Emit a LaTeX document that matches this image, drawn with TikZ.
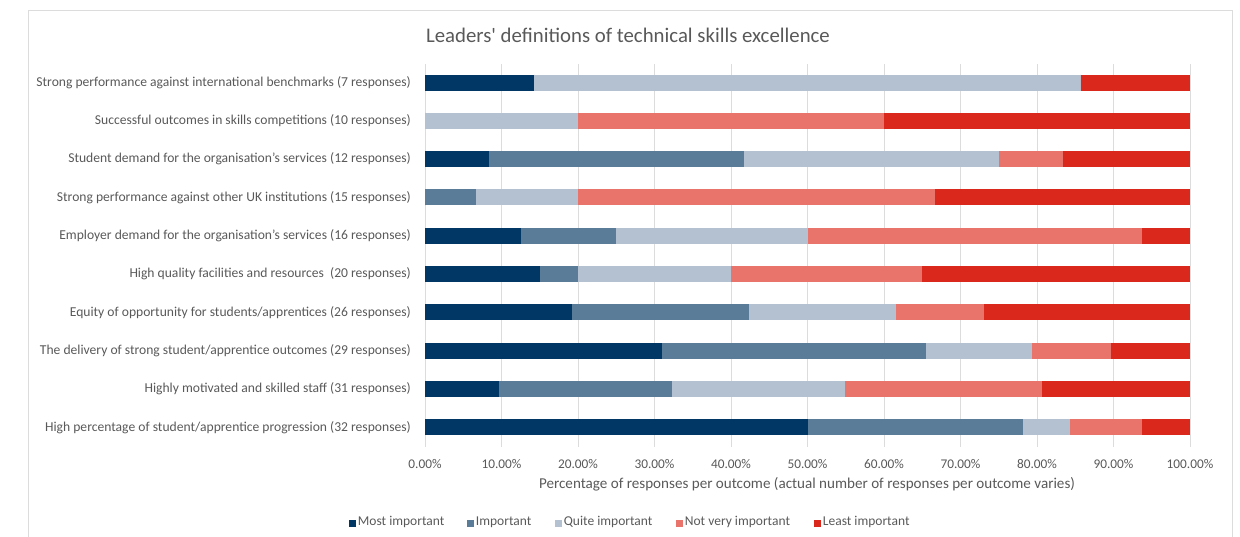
\documentclass[tikz,border=0pt]{standalone}
\usepackage{fontspec}
\setmainfont{Carlito}
\usetikzlibrary{calc}

\definecolor{mostimp}{HTML}{003764}
\definecolor{imp}{HTML}{5B7C99}
\definecolor{quiteimp}{HTML}{B3C1D0}
\definecolor{notvery}{HTML}{E8746C}
\definecolor{leastimp}{HTML}{DA291C}
\definecolor{gridgray}{HTML}{DCDCDC}
\definecolor{textgray}{HTML}{595959}

\tikzset{
	catlabel/.style={anchor=east,inner sep=0pt,text=textgray,font=\fontsize{13.6}{15}\selectfont},
	ticklabel/.style={inner sep=0pt,text=textgray,font=\fontsize{13.3}{15}\selectfont},
	legendtext/.style={anchor=west,inner sep=0pt,text=textgray,font=\fontsize{13.5}{15}\selectfont},
	legendbox/.style={minimum size=7pt,inner sep=0pt}
}

\begin{document}
\begin{tikzpicture}[x=1pt,y=-1pt]
	\useasboundingbox (0,0) rectangle (1240,536);
	
	% Frame
	\draw[gridgray] (28,10) rectangle (1232,560);
	\node[text=textgray,font=\fontsize{20.8}{24}\selectfont] (title) at (628,35) {Leaders\textquotesingle\ definitions of technical skills excellence};
	
	% Grid and ticks
	\foreach \i in {0,...,10} {
		\pgfmathtruncatemacro\p{10*\i}
		\draw[gridgray] ({425+76.5*\i},64) -- ({425+76.5*\i},447);
		\node[ticklabel] (tick\i) at ({425+76.5*\i},464) {\p.00\%};
	}
	\node[ticklabel,font=\fontsize{15.1}{17}\selectfont] (axistitle) at (807,484) {Percentage of responses per outcome (actual number of responses per outcome varies)};
	
	% Bars (cumulative percentages)
	\foreach \r/\lab/\a/\b/\c/\d in {
		1/{Strong performance against international benchmarks (7 responses)}/14.286/14.286/85.714/85.714,
		2/{Successful outcomes in skills competitions (10 responses)}/0/0/20/60,
		3/{Student demand for the organisation’s services (12 responses)}/8.333/41.667/75/83.333,
		4/{Strong performance against other UK institutions (15 responses)}/0/6.667/20/66.667,
		5/{Employer demand for the organisation’s services (16 responses)}/12.5/25/50/93.75,
		6/{High quality facilities and resources\ \ (20 responses)}/15/20/40/65,
		7/{Equity of opportunity for students/apprentices (26 responses)}/19.231/42.308/61.538/73.077,
		8/{The delivery of strong student/apprentice outcomes (29 responses)}/31.034/65.517/79.310/89.655,
		9/{Highly motivated and skilled staff (31 responses)}/9.677/32.258/54.839/80.645,
		10/{High percentage of student/apprentice progression (32 responses)}/50/78.125/84.375/93.75} {
		\pgfmathsetmacro\y{82.5+38.3*(\r-1)}
		\node[catlabel] (lab\r) at (411,\y) {\lab};
		\fill[mostimp] (425,\y-8) rectangle ({425+7.65*\a},\y+8);
		\fill[imp] ({425+7.65*\a},\y-8) rectangle ({425+7.65*\b},\y+8);
		\fill[quiteimp] ({425+7.65*\b},\y-8) rectangle ({425+7.65*\c},\y+8);
		\fill[notvery] ({425+7.65*\c},\y-8) rectangle ({425+7.65*\d},\y+8);
		\fill[leastimp] ({425+7.65*\d},\y-8) rectangle (1190,\y+8);
	}
	
	% Legend
	\foreach \k/\col/\txt/\x in {1/mostimp/Most important/352,2/imp/Important/470,3/quiteimp/Quite important/558,4/notvery/Not very important/679,5/leastimp/Least important/817} {
		\node[legendbox,fill=\col] (legbox\k) at (\x,523) {};
		\node[legendtext] (leg\k) at ([xshift=2pt,yshift=1pt]legbox\k.east) {\txt};
	}
\end{tikzpicture}
\end{document}
